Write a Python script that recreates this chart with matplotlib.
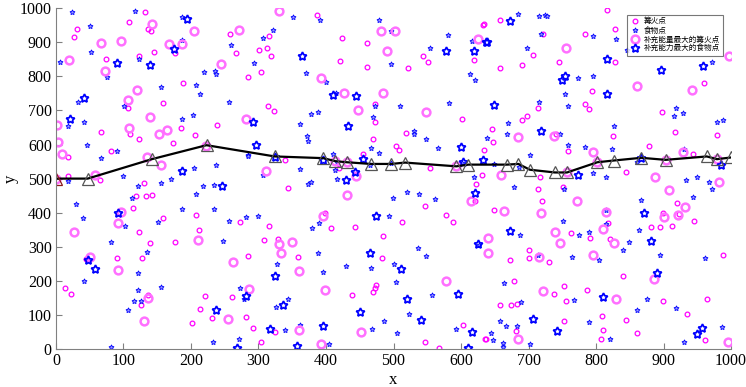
import numpy as np
import matplotlib
matplotlib.use("Agg")
import matplotlib.pyplot as plt

plt.rcParams['font.family'] = ['Liberation Serif', 'Noto Sans CJK SC']

# 篝火点 (small bonfire points)
fire_x = [31, 27, 74, 67, 81, 18, 18, 108, 132, 136, 141, 123, 145, 176, 188, 158, 107, 110, 123, 185,
          174, 206, 238, 258, 267, 284, 65,
          387, 315, 301, 312, 319, 303, 423, 461, 421, 460, 522, 544, 551, 633, 619, 314, 323, 473,
          472, 470, 518, 503, 508, 602, 634, 631, 554, 340, 419, 455,
          816, 634, 657, 721, 784, 828, 707, 657, 691, 745, 828, 960, 794, 783, 790, 714, 697, 690,
          646, 648, 740, 758, 825, 878, 897, 917, 979, 943, 845, 717,
          14, 22, 44, 91, 131, 119, 133, 142, 114, 123, 140, 128, 158, 176, 126, 136, 208, 212,
          221, 214, 231, 202, 261, 273, 281, 284,
          343, 546, 577, 588, 622, 621, 512, 443, 407, 316, 308, 329, 358, 485, 483, 398, 474, 473,
          470, 439, 292, 324, 303, 603, 637, 547, 568,
          714, 720, 751, 649, 920, 899, 923, 945, 913, 881, 895, 763, 791, 820, 817, 700, 701, 672,
          730, 988, 840, 679, 753, 738, 787, 756, 965, 899, 658, 674, 683, 935, 809, 845, 752, 681,
          811, 860, 807, 636, 961]
fire_y = [939, 914, 851, 637, 580, 562, 508, 958, 990, 938, 932, 860, 872, 867, 779, 723, 706, 630, 616, 647,
          604, 629, 658, 923, 867, 799, 495,
          979, 919, 878, 882, 861, 814, 911, 899, 844, 826, 824, 861, 842, 951, 849, 712, 697, 720,
          665, 617, 635, 597, 583, 675, 584, 512, 531, 554, 531, 573,
          995, 952, 964, 925, 924, 939, 863, 824, 832, 843, 841, 779, 756, 718, 703, 707, 685, 673,
          646, 607, 631, 580, 625, 596, 696, 637, 628, 573, 518, 506,
          179, 162, 263, 266, 487, 450, 449, 453, 415, 342, 310, 268, 383, 313, 129, 159, 393, 348,
          157, 117, 91, 76, 153, 374, 93, 273,
          473, 420, 393, 372, 485, 435, 374, 358, 355, 362, 319, 323, 270, 331, 266, 399, 189, 178,
          168, 158, 62, 51, 21, 70, 30, 22, 3,
          469, 435, 475, 409, 429, 399, 397, 377, 362, 358, 357, 339, 327, 322, 369, 292, 266, 260,
          255, 276, 213, 201, 185, 162, 172, 141, 148, 140, 128, 128, 131, 104, 98, 86, 83, 54,
          55, 47, 30, 30, 27]

# 食物点 (small food points)
food_x = [24, 6, 51, 52, 76, 32, 18, 41, 46, 66, 91, 101, 123, 117, 156, 187, 203, 207, 214, 220,
          236, 237, 256, 259, 284, 237, 205, 171, 99, 186, 187,
          351, 391, 321, 307, 294, 371, 400, 415, 479, 497, 496, 473, 509, 470, 388, 378, 362, 372,
          373, 466, 479, 530, 530, 548, 566, 581, 554, 616, 613, 621, 582, 639, 285, 410, 417, 413,
          361, 306, 417, 465, 496, 619, 601,
          685, 715, 724, 728, 718, 698, 796, 830, 846, 972, 773, 795, 754, 716, 759, 918, 915, 929,
          988, 979, 670, 668, 826, 747, 758, 783, 823, 702, 649, 860, 930, 795, 814, 933, 949, 686,
          18, 29, 40, 41, 81, 81, 103, 121, 112, 122, 135, 121, 116, 126, 107, 156, 151, 155, 187,
          207, 218, 234, 234, 248, 256, 281, 273, 279, 271, 232,
          373, 378, 499, 520, 538, 561, 300, 389, 379, 494, 536, 548, 388, 327, 395, 430, 466, 501,
          503, 557, 344, 326, 523, 486, 468, 505, 361, 340, 404, 592,
          679, 752, 967, 971, 944, 867, 815, 751, 687, 774, 790, 815, 864, 849, 840, 895, 961, 765,
          804, 714, 663, 689, 767, 875, 918, 860, 658, 667, 683, 789, 644, 647, 662, 662, 702, 821,
          930, 987, 627]
food_y = [990, 842, 949, 872, 798, 726, 653, 667, 598, 559, 581, 714, 850, 993, 768, 676, 687, 774, 747, 813,
          817, 808, 724, 893, 569, 539, 530, 500, 508, 974, 907,
          974, 966, 936, 912, 838, 809, 782, 751, 966, 933, 836, 712, 712, 682, 695, 690, 659, 624,
          609, 591, 575, 640, 631, 617, 591, 922, 883, 905, 807, 790, 722, 620, 567, 572, 548, 526,
          528, 512, 500, 540, 546, 505, 547,
          983, 976, 981, 976, 924, 882, 917, 909, 876, 842, 796, 800, 748, 725, 714, 706, 685, 692,
          673, 665, 662, 631, 653, 630, 600, 593, 587, 569, 544, 548, 587, 516, 504, 496, 504, 535,
          494, 426, 385, 200, 315, 6, 361, 479, 442, 224, 285, 174, 141, 141, 114, 486, 373, 182, 412,
          456, 479, 481, 410, 316, 376, 387, 180, 147, 29, 21,
          485, 489, 442, 461, 456, 439, 391, 369, 355, 390, 296, 272, 281, 250, 226, 243, 238, 250,
          196, 160, 148, 122, 103, 83, 59, 46, 71, 57, 15, 59,
          474, 469, 491, 470, 445, 438, 407, 376, 336, 334, 342, 366, 350, 313, 290, 276, 267, 270,
          260, 277, 193, 139, 145, 146, 120, 115, 83, 67, 68, 79, 47, 27, 17, 6, 14, 29,
          21, 64, 306]

# 补充能量最大的篝火点
big_fire_x = [2, 3, 9, 20, 67, 97, 73, 107, 108, 120, 140, 135, 142, 152, 164, 156, 167, 186, 204, 244,
              271, 282, 58, 0, 222, 414, 757, 979,
              331, 482, 502, 491, 625, 393, 426, 485, 448, 548, 311, 431, 445, 593,
              755, 997, 861, 942, 685, 738, 795, 929, 659, 887, 802, 903,
              26, 51, 96, 92, 92, 136, 131, 211, 262, 255, 286,
              431, 396, 615, 640, 330, 349, 333, 360, 399, 578, 360, 452, 392, 640,
              982, 908, 772, 663, 718, 814, 932, 922, 900, 810, 739, 747, 826, 715, 796, 886, 721,
              830, 685, 996]
big_fire_y = [657, 606, 573, 848, 899, 903, 816, 731, 648, 761, 682, 563, 954, 631, 642, 539, 896, 896, 933, 835,
              936, 675, 512, 500, 596, 551, 518, 557,
              991, 934, 934, 875, 909, 794, 751, 751, 702, 694, 522, 548, 508, 536,
              883, 861, 772, 760, 621, 624, 579, 577, 512, 506, 548, 555,
              343, 271, 403, 371, 232, 150, 83, 320, 254, 87, 177,
              453, 389, 435, 327, 309, 313, 281, 228, 172, 199, 56, 51, 16, 281,
              491, 466, 434, 405, 399, 402, 417, 392, 387, 353, 344, 310, 312, 270, 276, 205, 169,
              147, 31, 20]

# 补充能力最大的食物点
big_food_x = [21, 41, 91, 140, 175, 194, 186, 365, 410, 444, 292, 433, 297, 324, 396, 455, 443, 430,
              578, 619, 637, 600, 603, 632, 673, 638, 816, 896, 959, 749, 754, 816, 649, 718, 773,
              867, 985, 92, 48, 58, 246, 237, 282, 268,
              474, 465, 511, 620, 625, 324, 336, 520, 595, 450, 540, 395, 317, 616, 357, 610,
              871, 673, 881, 890, 810, 707, 742, 957, 950]
big_food_y = [675, 737, 840, 833, 881, 969, 521, 861, 746, 741, 665, 654, 599, 563, 555, 558, 520, 497,
              875, 875, 902, 593, 550, 555, 961, 900, 850, 819, 829, 790, 800, 747, 715, 640, 512,
              561, 541, 399, 260, 235, 479, 116, 156, 2,
              390, 283, 234, 457, 308, 215, 128, 146, 161, 110, 84, 67, 58, 50, 8, 2,
              398, 347, 318, 224, 152, 87, 52, 62, 43]

# path
path_x = [0, 47, 142, 223, 324, 396, 414, 431, 466, 497, 517, 593, 611, 668, 685, 702, 739, 757,
          802, 826, 867, 903, 964, 979, 1000]
path_y = [500, 500, 557, 598, 565, 560, 551, 548, 543, 543, 547, 536, 541, 541, 543, 526, 518, 518,
          548, 553, 561, 555, 565, 557, 562]

star = (5, 1, 0)

fig = plt.figure(figsize=(7.46, 3.87), dpi=100)
ax = fig.add_axes([0.075, 0.098, 0.905, 0.881])

ax.plot(fire_x, fire_y, 'o', ls='none', ms=3.4, mfc='none', mec='#ff00ff', mew=0.9, label='篝火点')
ax.plot(food_x, food_y, marker=star, ls='none', ms=3.8, mfc='#9a9aff', mec='#0000ff', mew=0.6,
        label='食物点')
ax.plot(big_fire_x, big_fire_y, 'o', ls='none', ms=5.6, mfc='none', mec='#ff70ff', mew=1.8,
        label='补充能量最大的篝火点')
ax.plot(big_food_x, big_food_y, marker=star, ls='none', ms=6.3, mfc='none', mec='#0000ff', mew=1.3,
        label='补充能力最大的食物点')

ax.plot(path_x, path_y, '-', color='black', lw=1.6)
ax.plot(path_x[1:], path_y[1:], '^', ls='none', ms=9, mfc='none', mec='#555555', mew=0.9)
ax.plot(path_x[:1], path_y[:1], '^', ls='none', ms=9, mfc='none', mec='#8b1a1a', mew=0.9)

ax.set_xlim(0, 1000)
ax.set_ylim(0, 1000)
ax.set_xticks(range(0, 1001, 100))
ax.set_yticks(range(0, 1001, 100))
for s in ['top', 'right']:
    ax.spines[s].set_visible(False)
for s in ['left', 'bottom']:
    ax.spines[s].set_color('#808080')
ax.tick_params(direction='in', length=4, color='#808080', labelsize=11.5, pad=3)
ax.set_xlabel('x', fontsize=12, labelpad=2)
ax.set_ylabel('y', fontsize=12, labelpad=1)

leg = ax.legend(loc='upper right', bbox_to_anchor=(0.99, 0.985),
                prop={'family': ['Noto Sans CJK SC'], 'size': 5.5}, frameon=True, fancybox=False,
                handlelength=1.3, borderpad=0.35, labelspacing=0.15, handletextpad=0.5,
                borderaxespad=0.2)
leg.get_frame().set_edgecolor('#555555')
leg.get_frame().set_linewidth(0.8)

fig.savefig('out.png', dpi=100)
